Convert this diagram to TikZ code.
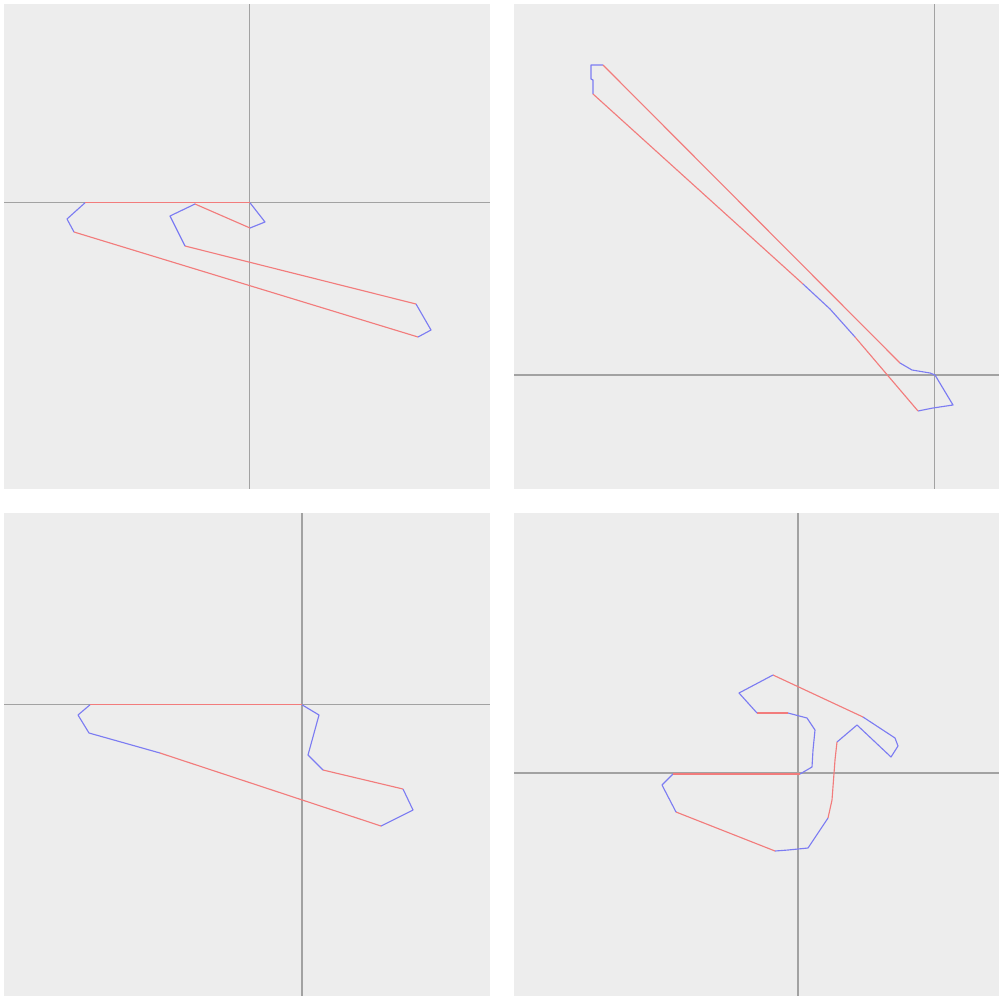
\documentclass[tikz,border=0pt]{standalone}
\usepackage{tikz}
\usetikzlibrary{positioning}
\usepackage{xcolor}

\definecolor{panelbg}{HTML}{EDEDED}
\definecolor{axisgray}{HTML}{A2A2A2}
\definecolor{segred}{HTML}{F27C7C}
\definecolor{segblue}{HTML}{7C7CF2}

\begin{document}
\begin{tikzpicture}[
    x=0.75pt, y=-0.75pt,
    panel/.style={fill=panelbg, draw=none},
    axis/.style={draw=axisgray, line width=1.1pt},
    redseg/.style={draw=segred, line width=0.85pt, line join=round},
    blueseg/.style={draw=segblue, line width=0.85pt, line join=round}
]
\useasboundingbox (0,0) rectangle (999,996);

% Panels
\fill[panel] (4,4) rectangle (490,489);
\fill[panel] (514,4) rectangle (999,489);
\fill[panel] (4,513) rectangle (490,996);
\fill[panel] (514,513) rectangle (999,996);

% Axes
\draw[axis] (4,202.5) -- (490,202.5);
\draw[axis] (249.5,4) -- (249.5,489);
\draw[axis] (514,375) -- (999,375);
\draw[axis] (934.5,4) -- (934.5,489);
\draw[axis] (4,704.5) -- (490,704.5);
\draw[axis] (302,513) -- (302,996);
\draw[axis] (514,773.2) -- (999,773.2);
\draw[axis] (798,513) -- (798,996);

% Top left loop
\draw[blueseg] (85,202.8) -- (67,219) -- (74,232);
\draw[redseg] (74,232) -- (418,337);
\draw[blueseg] (418,337) -- (431,330) -- (416,304);
\draw[redseg] (416,304) -- (185,246);
\draw[blueseg] (185,246) -- (170,216) -- (195,204);
\draw[redseg] (195,204) -- (250,228);
\draw[blueseg] (250,228) -- (265,222) -- (250,202.8);
\draw[redseg] (250,202.8) -- (85,202.8);

% Top right loop
\draw[blueseg] (593,94) -- (593,80) -- (591,79) -- (591,65) -- (603,65);
\draw[redseg] (603,65) -- (900,363);
\draw[blueseg] (900,363) -- (912,370) -- (930,373) -- (935,375) -- (953,405) -- (933,408) -- (918,411);
\draw[redseg] (918,411) -- (855,337);
\draw[blueseg] (855,337) -- (830,309) -- (803,284);
\draw[redseg] (803,284) -- (593,94);

% Bottom left loop
\draw[blueseg] (90,704.8) -- (78,715) -- (89,733) -- (160,753);
\draw[redseg] (160,753) -- (381,826);
\draw[blueseg] (381,826) -- (413,810) -- (403,789);
\draw[redseg] (403,789) -- (323,770);
\draw[blueseg] (323,770) -- (308,755) -- (319,715) -- (302,704.8);
\draw[redseg] (302,704.8) -- (90,704.8);

% Bottom right loop
\draw[redseg] (773,675) -- (863,717);
\draw[blueseg] (863,717) -- (895,738) -- (898,746) -- (891,757) -- (857,725) -- (837,742);
\draw[redseg] (837,742) -- (835,760) -- (832,800) -- (828,818);
\draw[blueseg] (828,818) -- (808,848) -- (788,850) -- (775,851);
\draw[redseg] (775,851) -- (676,812);
\draw[blueseg] (676,812) -- (662,785) -- (673,774);
\draw[redseg] (673,774) -- (800,774);
\draw[blueseg] (800,774) -- (812,767) -- (813,750) -- (815,730) -- (807,718) -- (788,713);
\draw[redseg] (788,713) -- (757,713);
\draw[blueseg] (757,713) -- (739,693) -- (773,675);
\end{tikzpicture}
\end{document}
